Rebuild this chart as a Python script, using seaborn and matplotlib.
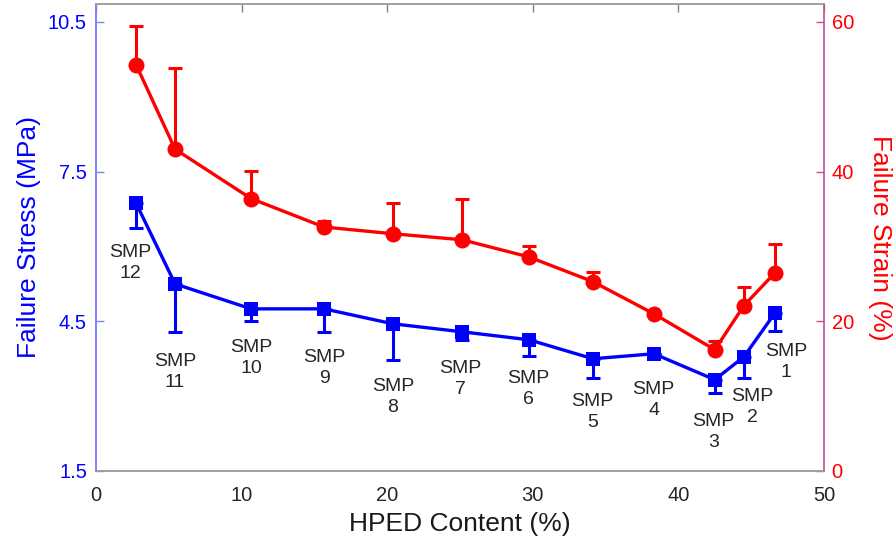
import numpy as np
import pandas as pd
import seaborn as sns
import matplotlib
matplotlib.use("Agg")
import matplotlib.pyplot as plt

# ---- data ----
hped = [2.75, 5.43, 10.65, 15.66, 20.4, 25.14, 29.74, 34.13, 38.32, 42.5, 44.5, 46.64]
stress = [6.87, 5.25, 4.75, 4.75, 4.45, 4.29, 4.13, 3.75, 3.85, 3.33, 3.79, 4.67]
stress_low = [6.37, 4.29, 4.51, 4.29, 3.73, 4.13, 3.81, 3.37, 3.85, 3.07, 3.37, 4.31]
strain = [54.3, 43.0, 36.4, 32.6, 31.7, 30.9, 28.6, 25.3, 21.0, 16.2, 22.1, 26.5]
strain_high = [59.4, 53.9, 40.1, 33.4, 35.8, 36.4, 30.1, 26.6, 21.0, 17.4, 24.6, 30.3]
samples = ["SMP\n12", "SMP\n11", "SMP\n10", "SMP\n9", "SMP\n8", "SMP\n7",
           "SMP\n6", "SMP\n5", "SMP\n4", "SMP\n3", "SMP\n2", "SMP\n1"]

# ---- layout (label positions, data coords of left axis) ----
label_x = [2.34, 5.43, 10.65, 15.66, 20.4, 25.0, 29.7, 34.1, 38.3, 42.4, 45.1, 47.4]
label_y = [5.66, 3.49, 3.77, 3.57, 2.99, 3.34, 3.14, 2.68, 2.92, 2.29, 2.78, 3.68]

df = pd.DataFrame({"hped": hped, "stress": stress, "strain": strain})

sns.set_theme(style="white")
plt.rcParams['font.family'] = ['Liberation Sans', 'DejaVu Sans']

BLUE = "#0000ff"
RED = "#ff0000"
TXT = "#262626"

fig = plt.figure(figsize=(8.94, 5.47), dpi=100)
ax = fig.add_axes([96/894, (547-471)/547, (824-96)/894, (471-4)/547])
ax2 = ax.twinx()

# stress (left)
s_err = [np.array(stress) - np.array(stress_low), np.zeros(len(stress))]
ax.errorbar(hped, stress, yerr=s_err, fmt="none", ecolor=BLUE, elinewidth=2.2,
            capsize=4.8, capthick=2.2, zorder=3)
sns.lineplot(data=df, x="hped", y="stress", ax=ax, color=BLUE, lw=2.4,
             marker="s", markersize=10.5, markeredgewidth=0, zorder=4)

# strain (right)
e_err = [np.zeros(len(strain)), np.array(strain_high) - np.array(strain)]
ax2.errorbar(hped, strain, yerr=e_err, fmt="none", ecolor=RED, elinewidth=2.2,
             capsize=4.8, capthick=2.2, zorder=3)
sns.lineplot(data=df, x="hped", y="strain", ax=ax2, color=RED, lw=2.4,
             marker="o", markersize=11.5, markeredgewidth=0, zorder=4)

for lx, ly, t in zip(label_x, label_y, samples):
    ax.text(lx, ly, t, ha="center", va="center", fontsize=14, color=TXT,
            linespacing=1.3)

ax.set_xlim(0, 50)
ax.set_ylim(1.5, 10.86)
ax2.set_ylim(0, 62.4)
ax.set_xticks([0, 10, 20, 30, 40, 50])
ax.set_yticks([1.5, 4.5, 7.5, 10.5])
ax.set_yticklabels(["1.5", "4.5", "7.5", "10.5"])
ax2.set_yticks([0, 20, 40, 60])

ax.set_xlabel("HPED Content (%)", fontsize=19, color="#1a1a1a", labelpad=5)
ax.set_ylabel("Failure Stress (MPa)", fontsize=19, color=BLUE, labelpad=5)
ax2.set_ylabel("Failure Strain (%)", fontsize=19, color=RED, labelpad=10,
               rotation=270, va="bottom")

ax.tick_params(axis="x", direction="in", length=6, width=1, color="#808080",
               labelsize=14.5, labelcolor=TXT, pad=11, top=True)
ax.tick_params(axis="y", direction="in", length=6, width=1, color="#8080ff",
               labelsize=14.5, labelcolor=BLUE, pad=6.5, right=False)
ax2.tick_params(axis="y", direction="in", length=6, width=1, color="#c0508f",
                labelsize=14.5, labelcolor=RED, pad=5.5)

for a in (ax, ax2):
    for s in a.spines.values():
        s.set_visible(True)
        s.set_linewidth(1.2)
    a.spines["top"].set_color("#a0a0a0")
    a.spines["bottom"].set_color("#a0a0a0")
ax.spines["left"].set_color("#8080ff")
ax2.spines["left"].set_color("#8080ff")
ax.spines["right"].set_visible(False)
ax2.spines["right"].set_color("#c0508f")
ax.grid(False)
ax2.grid(False)

fig.savefig("out.png", dpi=100)
